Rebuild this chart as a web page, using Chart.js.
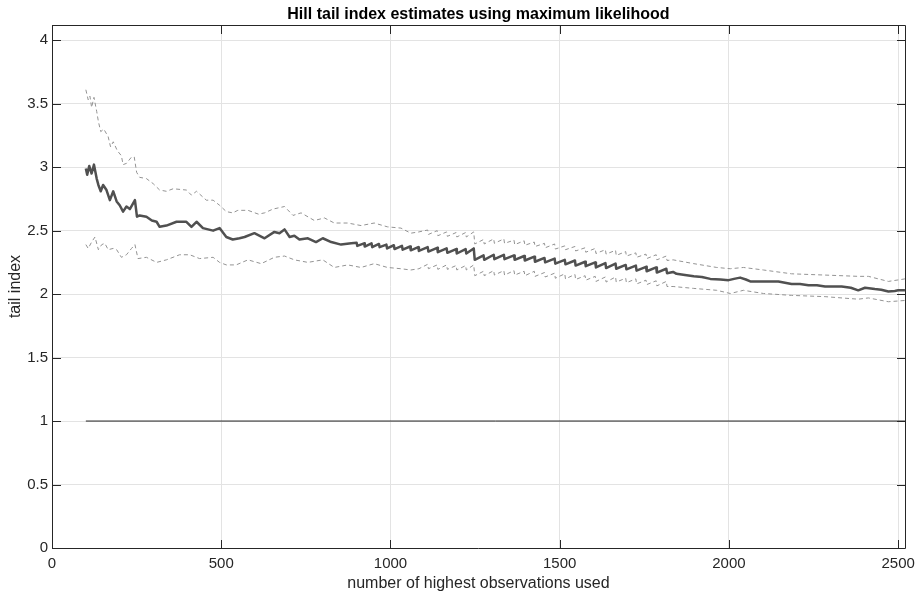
<!DOCTYPE html>
<html>
<head>
<meta charset="utf-8">
<script src="https://cdn.jsdelivr.net/npm/chart.js@4.4.0/dist/chart.umd.min.js"></script>
<style>
  body { margin: 0; background: #fff; }
  canvas { display: block; }
</style>
</head>
<body>
<canvas id="chart" width="922" height="594"></canvas>
<script>
// number of upper order statistics used (k) and the Hill estimate at k
var hillK = [100, 104, 110, 117, 124, 132, 137, 144, 151, 161, 171, 181, 191, 200, 210, 220, 230, 245, 251, 259,
    279, 295, 309, 318, 338, 368, 397, 412, 427, 446, 476, 495, 515, 534, 554, 569, 598, 628, 657, 672,
    687, 702, 716, 731, 756, 780, 800, 825, 854, 884, 900, 902, 922, 924, 944, 946, 966, 968, 988, 990,
    1010, 1012, 1034, 1036, 1058, 1060, 1082, 1084, 1110, 1112, 1138, 1140, 1166, 1168, 1194, 1196, 1222, 1224, 1246, 1249,
    1275, 1277, 1305, 1307, 1335, 1337, 1365, 1367, 1395, 1397, 1425, 1427, 1455, 1457, 1485, 1487, 1515, 1517, 1545, 1547,
    1575, 1577, 1605, 1607, 1635, 1637, 1665, 1667, 1695, 1697, 1725, 1727, 1755, 1757, 1785, 1787, 1815, 1817, 1835, 1845,
    1870, 1896, 1920, 1945, 1975, 1999, 2015, 2033, 2050, 2063, 2087, 2120, 2146, 2185, 2210, 2235, 2260, 2284, 2310, 2333,
    2360, 2382, 2402, 2431, 2450, 2471, 2490, 2500, 2520];
var hillAlpha = [2.99, 2.94, 3.01, 2.95, 3.02, 2.91, 2.86, 2.81, 2.86, 2.82, 2.74, 2.81, 2.73, 2.70, 2.65, 2.69, 2.67, 2.74, 2.61, 2.62,
    2.61, 2.58, 2.57, 2.53, 2.54, 2.57, 2.57, 2.53, 2.57, 2.52, 2.50, 2.52, 2.45, 2.43, 2.44, 2.45, 2.48, 2.44, 2.49, 2.48,
    2.51, 2.45, 2.46, 2.43, 2.44, 2.41, 2.44, 2.41, 2.39, 2.40, 2.405, 2.38, 2.40, 2.375, 2.40, 2.37, 2.395, 2.37, 2.39, 2.36,
    2.385, 2.355, 2.38, 2.35, 2.375, 2.345, 2.37, 2.34, 2.37, 2.335, 2.365, 2.33, 2.36, 2.325, 2.355, 2.32, 2.355, 2.32, 2.36, 2.27,
    2.305, 2.27, 2.31, 2.275, 2.31, 2.275, 2.305, 2.27, 2.30, 2.265, 2.295, 2.255, 2.285, 2.25, 2.28, 2.24, 2.27, 2.235, 2.265, 2.225,
    2.255, 2.22, 2.25, 2.21, 2.245, 2.205, 2.24, 2.20, 2.23, 2.195, 2.225, 2.185, 2.215, 2.18, 2.21, 2.17, 2.20, 2.165, 2.175, 2.16,
    2.15, 2.14, 2.135, 2.12, 2.115, 2.11, 2.12, 2.13, 2.115, 2.10, 2.10, 2.10, 2.10, 2.08, 2.08, 2.07, 2.07, 2.06, 2.06, 2.06,
    2.05, 2.03, 2.05, 2.04, 2.035, 2.02, 2.025, 2.03, 2.03];

// upper confidence bound
var upperK = [100, 107, 112, 117, 124, 132, 137, 144, 153, 166, 173, 181, 193, 205, 210, 220, 235, 243, 250, 259,
    279, 299, 318, 338, 358, 397, 412, 427, 456, 476, 495, 515, 534, 549, 579, 610, 628, 653, 687, 712,
    736, 775, 805, 834, 874, 913, 952, 991, 1031, 1060, 1084,
    1110, 1112, 1138, 1140, 1166, 1168, 1194, 1196, 1222, 1224, 1246, 1249, 1275, 1277, 1305, 1307, 1335, 1337, 1365, 1367,
    1395, 1397, 1425, 1427, 1455, 1457, 1485, 1487, 1515, 1517, 1545, 1547, 1575, 1577, 1605, 1607, 1635, 1637, 1665, 1667,
    1695, 1697, 1725, 1727, 1755, 1757, 1785, 1787, 1815, 1817, 1835,
    1896, 1964, 2004, 2043, 2102, 2185, 2284, 2382, 2412, 2471, 2520];
var upperAlpha = [3.61, 3.53, 3.56, 3.47, 3.55, 3.44, 3.36, 3.28, 3.30, 3.24, 3.16, 3.20, 3.13, 3.09, 3.02, 3.03, 3.08, 3.08, 2.96, 2.92,
    2.91, 2.87, 2.82, 2.81, 2.83, 2.82, 2.78, 2.81, 2.74, 2.74, 2.70, 2.65, 2.64, 2.66, 2.66, 2.63, 2.64, 2.67, 2.69, 2.62,
    2.64, 2.58, 2.60, 2.56, 2.56, 2.54, 2.56, 2.53, 2.52, 2.48, 2.49,
    2.505, 2.47, 2.50, 2.46, 2.49, 2.455, 2.485, 2.45, 2.485, 2.45, 2.49, 2.395, 2.43, 2.395, 2.435, 2.40, 2.435, 2.40, 2.425, 2.39,
    2.42, 2.385, 2.41, 2.375, 2.40, 2.365, 2.395, 2.355, 2.38, 2.35, 2.375, 2.34, 2.365, 2.33, 2.36, 2.32, 2.35, 2.315, 2.345, 2.305,
    2.335, 2.30, 2.325, 2.29, 2.315, 2.28, 2.31, 2.27, 2.30, 2.265, 2.27,
    2.24, 2.21, 2.20, 2.21, 2.19, 2.16, 2.15, 2.14, 2.14, 2.10, 2.12];

// lower confidence bound
var lowerK = [100, 107, 117, 127, 137, 147, 156, 166, 181, 191, 205, 220, 235, 245, 254, 279, 309, 338, 377, 407,
    436, 476, 495, 515, 544, 579, 618, 657, 687, 716, 756, 800, 834, 874, 913, 952, 991, 1031, 1060, 1084,
    1110, 1112, 1138, 1140, 1166, 1168, 1194, 1196, 1222, 1224, 1246, 1249, 1275, 1277, 1305, 1307, 1335, 1337, 1365, 1367,
    1395, 1397, 1425, 1427, 1455, 1457, 1485, 1487, 1515, 1517, 1545, 1547, 1575, 1577, 1605, 1607, 1635, 1637, 1665, 1667,
    1695, 1697, 1725, 1727, 1755, 1757, 1785, 1787, 1815, 1817, 1835,
    1896, 1964, 2004, 2043, 2102, 2185, 2284, 2382, 2412, 2471, 2520];
var lowerAlpha = [2.39, 2.36, 2.41, 2.45, 2.35, 2.39, 2.40, 2.35, 2.36, 2.35, 2.29, 2.31, 2.36, 2.39, 2.28, 2.29, 2.25, 2.27, 2.31, 2.31,
    2.28, 2.29, 2.25, 2.23, 2.23, 2.27, 2.24, 2.29, 2.30, 2.27, 2.25, 2.27, 2.21, 2.23, 2.21, 2.24, 2.21, 2.20, 2.19, 2.20,
    2.235, 2.20, 2.23, 2.195, 2.23, 2.195, 2.225, 2.19, 2.225, 2.19, 2.23, 2.145, 2.18, 2.145, 2.185, 2.15, 2.185, 2.15, 2.185, 2.15,
    2.18, 2.145, 2.18, 2.14, 2.17, 2.135, 2.165, 2.125, 2.16, 2.12, 2.155, 2.115, 2.145, 2.11, 2.14, 2.10, 2.135, 2.095, 2.135, 2.095,
    2.125, 2.09, 2.12, 2.08, 2.11, 2.075, 2.105, 2.065, 2.10, 2.06, 2.06,
    2.045, 2.03, 2.005, 2.03, 2.005, 1.99, 1.98, 1.96, 1.97, 1.94, 1.95];

// reference level alpha = 1
var refK = [100, 2520];
var refAlpha = [1, 1];

var xTicks = [0, 500, 1000, 1500, 2000, 2500];
var yTicks = [0, 0.5, 1, 1.5, 2, 2.5, 3, 3.5, 4];

function toPoints(xs, ys) {
    return xs.map(function(x, i) { return { x: x, y: ys[i] }; });
}

var axisColor = '#262626';
var fontFamily = 'Liberation Sans, Arial, sans-serif';
var tickFont = { family: fontFamily, size: 15 };
var labelFont = { family: fontFamily, size: 16 };

// box on top/right plus inward ticks on all four sides
var frame = {
    id: 'frame',
    afterDraw: function(chart) {
        var ctx = chart.ctx, a = chart.chartArea;
        var xs = chart.scales.x, ys = chart.scales.y;
        var len = 8.5;
        ctx.save();
        ctx.strokeStyle = axisColor;
        ctx.lineWidth = 1;
        ctx.beginPath();
        var l = Math.round(a.left) + 0.5, r = Math.round(a.right) + 0.5;
        var t = Math.round(a.top) + 0.5, b = Math.round(a.bottom) + 0.5;
        ctx.moveTo(l, t); ctx.lineTo(r, t); ctx.lineTo(r, b);
        xTicks.forEach(function(v) {
            var px = Math.round(xs.getPixelForValue(v)) + 0.5;
            ctx.moveTo(px, b); ctx.lineTo(px, b - len);
            ctx.moveTo(px, t); ctx.lineTo(px, t + len);
        });
        yTicks.forEach(function(v) {
            var py = Math.round(ys.getPixelForValue(v)) + 0.5;
            ctx.moveTo(l, py); ctx.lineTo(l + len, py);
            ctx.moveTo(r, py); ctx.lineTo(r - len, py);
        });
        ctx.stroke();
        ctx.restore();
    }
};

var ctx = document.getElementById('chart').getContext('2d');
var chart = new Chart(ctx, {
    type: 'line',
    data: {
        datasets: [{
            label: 'Hill estimate',
            data: toPoints(hillK, hillAlpha),
            borderColor: '#505050',
            borderWidth: 2.5,
            borderJoinStyle: 'round'
        }, {
            label: 'upper bound',
            data: toPoints(upperK, upperAlpha),
            borderColor: '#939393',
            borderWidth: 1,
            borderDash: [4, 3]
        }, {
            label: 'lower bound',
            data: toPoints(lowerK, lowerAlpha),
            borderColor: '#939393',
            borderWidth: 1,
            borderDash: [4, 3]
        }, {
            label: 'alpha = 1',
            data: toPoints(refK, refAlpha),
            borderColor: '#222222',
            borderWidth: 1
        }]
    },
    options: {
        responsive: false,
        animation: false,
        devicePixelRatio: 1,
        elements: {
            point: { radius: 0 },
            line: { tension: 0, fill: false }
        },
        layout: { padding: { left: 0, right: 16, top: 0, bottom: 0 } },
        plugins: {
            legend: { display: false },
            tooltip: { enabled: false },
            title: {
                display: true,
                fullSize: false,
                text: 'Hill tail index estimates using maximum likelihood',
                color: '#000000',
                font: { family: fontFamily, size: 16, weight: 'bold' },
                padding: { top: 4.6, bottom: 1.2 }
            }
        },
        scales: {
            x: {
                type: 'linear',
                min: 0,
                max: 2520,
                afterBuildTicks: function(scale) {
                    scale.ticks = xTicks.map(function(v) { return { value: v }; });
                },
                afterFit: function(scale) { scale.height = 46; },
                grid: { color: '#e3e3e3', drawTicks: false },
                border: { color: axisColor, width: 1 },
                ticks: {
                    autoSkip: false,
                    maxRotation: 0,
                    padding: 7,
                    color: axisColor,
                    font: tickFont,
                    callback: function(v) { return String(v); }
                },
                title: {
                    display: true,
                    text: 'number of highest observations used',
                    color: axisColor,
                    font: labelFont,
                    padding: { top: 0, bottom: 0.8 }
                }
            },
            y: {
                type: 'linear',
                min: 0,
                max: 4.12,
                afterBuildTicks: function(scale) {
                    scale.ticks = yTicks.map(function(v) { return { value: v }; });
                },
                afterFit: function(scale) { scale.width = 52; },
                grid: { color: '#e3e3e3', drawTicks: false },
                border: { color: axisColor, width: 1 },
                ticks: {
                    autoSkip: false,
                    padding: 4,
                    color: axisColor,
                    font: tickFont,
                    callback: function(v) { return String(v); }
                },
                title: {
                    display: true,
                    text: 'tail index',
                    color: axisColor,
                    font: labelFont,
                    padding: { top: 6.4, bottom: 0 }
                }
            }
        }
    },
    plugins: [frame]
});
</script>
</body>
</html>
